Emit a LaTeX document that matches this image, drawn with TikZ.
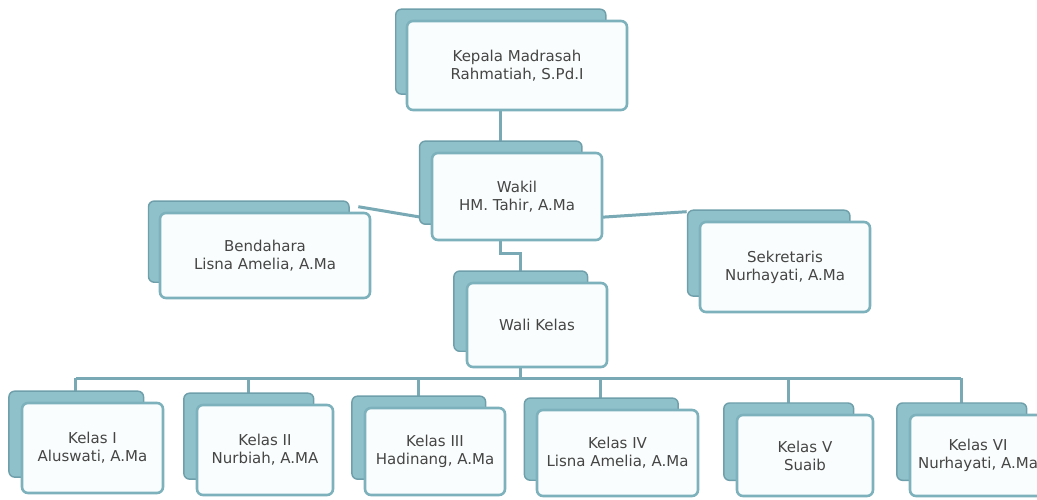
\documentclass[tikz,border=0pt]{standalone}
\usepackage{fontspec}
\setmainfont{DejaVu Sans}
\usepackage{tikz}
\usetikzlibrary{calc,shadows,backgrounds}
\definecolor{linec}{HTML}{78A9B4}
\definecolor{edgec}{HTML}{7DB1BC}
\definecolor{backc}{HTML}{8FC1CA}
\definecolor{backedge}{HTML}{6F9FAA}
\definecolor{textc}{HTML}{454545}
\definecolor{frontbg}{HTML}{FAFDFD}
\tikzset{
  unit/.style={draw=edgec,line width=2.6pt,rounded corners=6pt,fill=frontbg,align=center,
    text=textc,font=\fontsize{15}{18}\selectfont,inner sep=2pt,
    copy shadow={shadow xshift=-17pt,shadow yshift=14.5pt,shadow scale=0.955,
      fill=backc,draw=backedge,line width=1.5pt}},
  link/.style={linec,line width=3pt}
}

\begin{document}
\begin{tikzpicture}[x=1pt,y=-1pt]
\useasboundingbox (0,0) rectangle (1037,499);
% pimpinan
\node[unit,minimum width=220pt,minimum height=89pt] (kepala) at (517,65.5) {Kepala Madrasah\\Rahmatiah, S.Pd.I};
\node[unit,minimum width=170pt,minimum height=87pt] (wakil) at (517,196.5) {Wakil\\HM. Tahir, A.Ma};
\node[unit,minimum width=210pt,minimum height=85pt] (bend) at (265,255.5) {Bendahara\\Lisna Amelia, A.Ma};
\node[unit,minimum width=170pt,minimum height=90pt] (sek) at (785,267) {Sekretaris\\Nurhayati, A.Ma};
\node[unit,minimum width=140pt,minimum height=84pt] (wali) at (537,325) {Wali Kelas};
% kelas
\node[unit,minimum width=141pt,minimum height=90pt] (k1) at (92.5,448) {Kelas I\\Aluswati, A.Ma};
\node[unit,minimum width=136pt,minimum height=90pt] (k2) at (265,450) {Kelas II\\Nurbiah, A.MA};
\node[unit,minimum width=140pt,minimum height=87pt] (k3) at (435,451.5) {Kelas III\\Hadinang, A.Ma};
\node[unit,minimum width=161pt,minimum height=86pt] (k4) at (617.5,453) {Kelas IV\\Lisna Amelia, A.Ma};
\node[unit,minimum width=136pt,minimum height=81pt] (k5) at (805,455.5) {Kelas V\\Suaib};
\node[unit,minimum width=136pt,minimum height=81pt] (k6) at (978,455.5) {Kelas VI\\Nurhayati, A.Ma};

\foreach \n in {kepala,wakil,wali,k1,k2,k3,k4,k5,k6}
  \coordinate (\n B) at ($(\n.center)+(-17,0)$);
\coordinate (bus) at (0,378);

\begin{scope}[on background layer]
\draw[link] (kepalaB) -- (wakilB);
\draw[link] (wakilB) |- ($(wakil.south)+(0,12)$) -| (waliB);
\draw[link] ($(bend.north east)+(-13,-5)$) -- ($(wakil.west)+(-8,21)$);
\draw[link] ($(wakil.east)+(-6,21)$) -- ($(sek.north west)+(-12,-9)$);
\draw[link] (waliB) -- (waliB |- bus);
\draw[link] (k1B |- bus) -- (k6B |- bus);
\foreach \k in {k1,k2,k3,k4,k5,k6}
  \draw[link] (\k B |- bus) -- (\k B);
\end{scope}
\end{tikzpicture}
\end{document}
